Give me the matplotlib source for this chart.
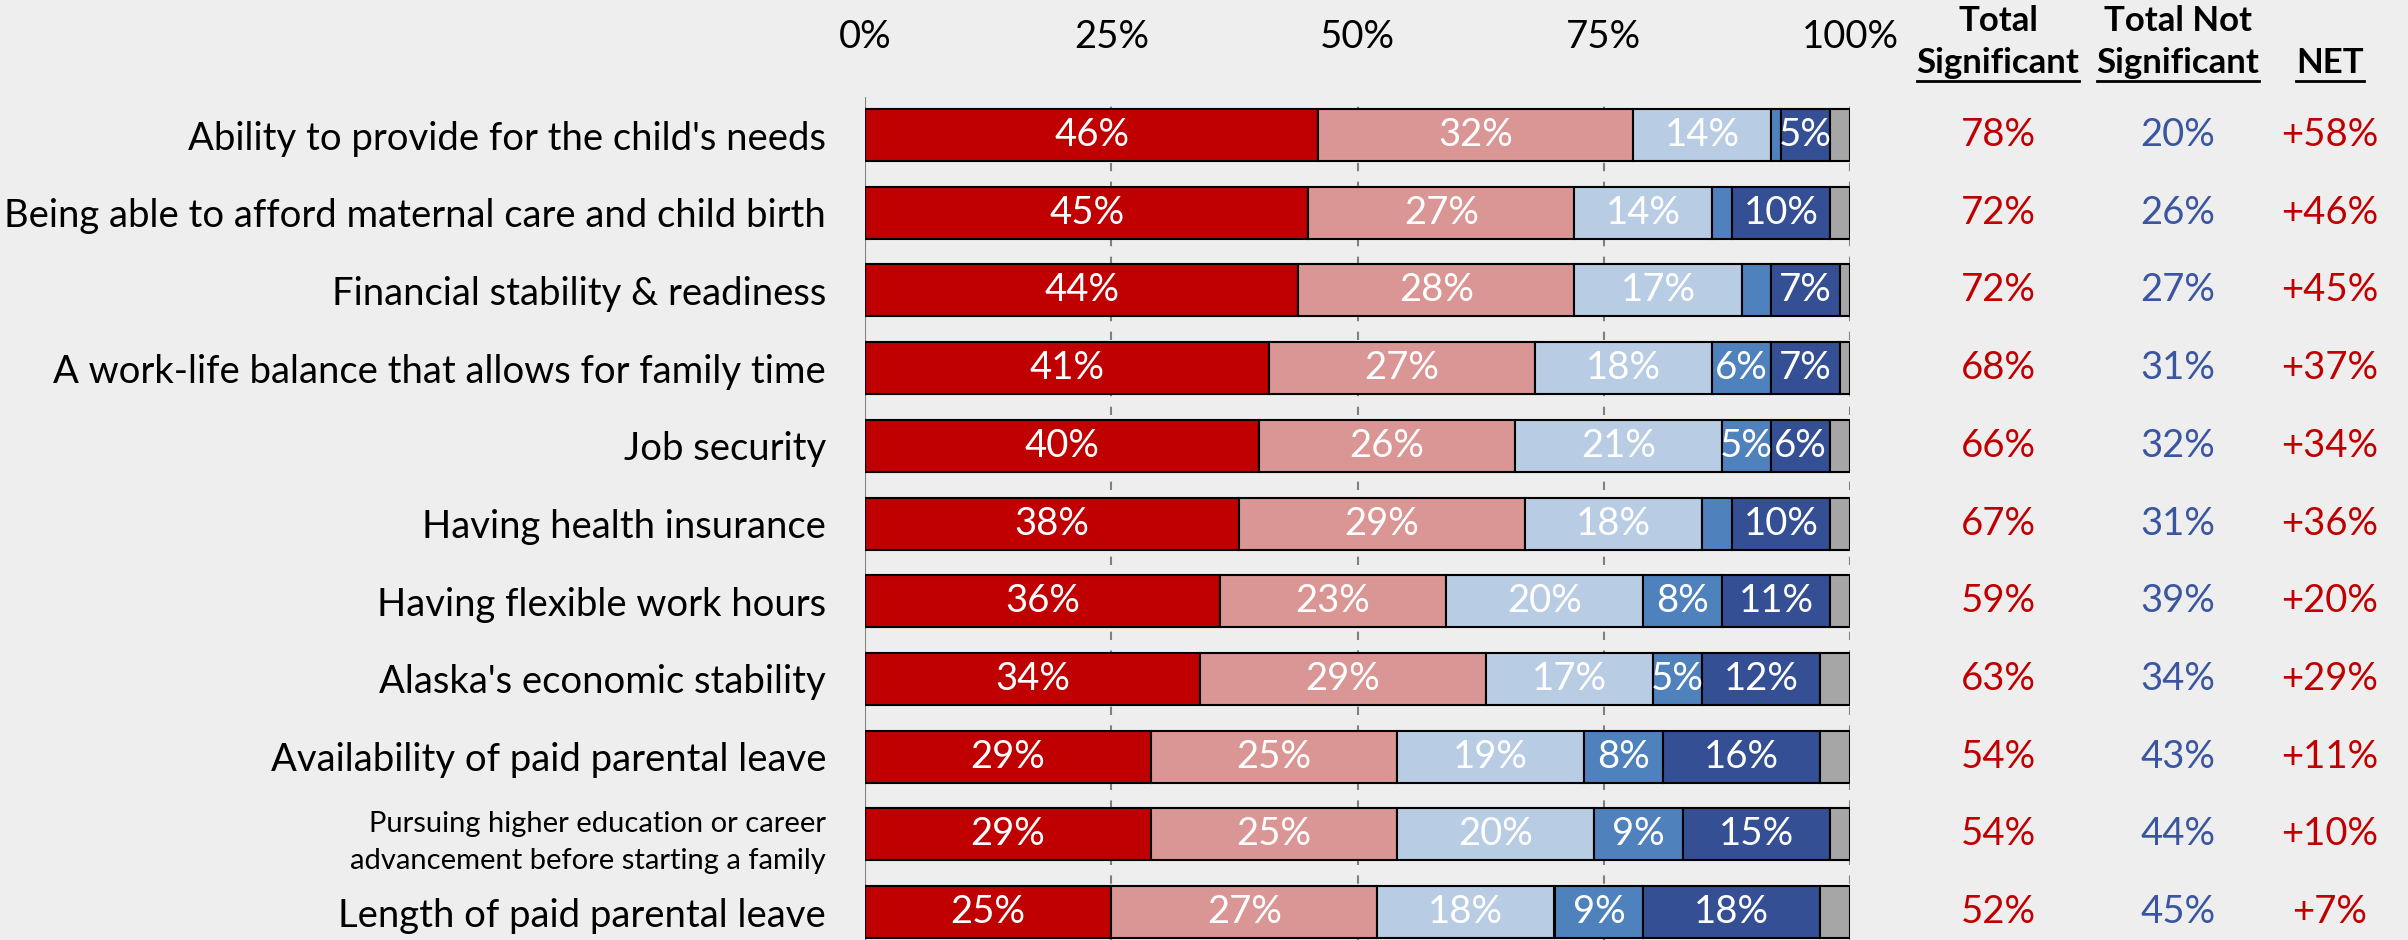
import numpy as np
import matplotlib.pyplot as plt
from matplotlib.lines import Line2D

plt.rcParams['font.family'] = ['Lato', 'DejaVu Sans']

# data
categories = [
    "Ability to provide for the child's needs",
    "Being able to afford maternal care and child birth",
    "Financial stability & readiness",
    "A work-life balance that allows for family time",
    "Job security",
    "Having health insurance",
    "Having flexible work hours",
    "Alaska's economic stability",
    "Availability of paid parental leave",
    "Pursuing higher education or career\nadvancement before starting a family",
    "Length of paid parental leave",
]
very_sig = [46, 45, 44, 41, 40, 38, 36, 34, 29, 29, 25]
somewhat_sig = [32, 27, 28, 27, 26, 29, 23, 29, 25, 25, 27]
not_very_sig = [14, 14, 17, 18, 21, 18, 20, 17, 19, 20, 18]
mostly_not_sig = [1, 2, 3, 6, 5, 3, 8, 5, 8, 9, 9]
not_sig_at_all = [5, 10, 7, 7, 6, 10, 11, 12, 16, 15, 18]
unsure = [2, 2, 1, 1, 2, 2, 2, 3, 3, 2, 3]

total_sig = [78, 72, 72, 68, 66, 67, 59, 63, 54, 54, 52]
total_not_sig = [20, 26, 27, 31, 32, 31, 39, 34, 43, 44, 45]
net = [58, 46, 45, 37, 34, 36, 20, 29, 11, 10, 7]

x_ticks = [0, 25, 50, 75, 100]

series = [very_sig, somewhat_sig, not_very_sig, mostly_not_sig, not_sig_at_all, unsure]
colors = ['#C00000', '#DA9694', '#B8CCE4', '#4F81BD', '#344F94', '#A6A6A6']
red = '#C00000'
blue = '#3A56A0'
bg = '#EEEEEE'
fs = 27.5

W, H = 2408, 940
fig = plt.figure(figsize=(W / 100, H / 100), dpi=100, facecolor=bg)
ax = fig.add_axes([865 / W, 0, 985 / W, 843 / H], facecolor=bg)

y = np.arange(len(categories))
left = np.zeros(len(categories))
for vals, c in zip(series, colors):
    vals = np.array(vals)
    ax.barh(y, vals, left=left, height=0.67, color=c, edgecolor='black',
            linewidth=1.5, zorder=3)
    if c != '#A6A6A6':
        for yi, (l, v) in enumerate(zip(left, vals)):
            if v >= 5:
                ax.text(l + v / 2, yi, f'{v}%', ha='center', va='center',
                        color='white', fontsize=fs, zorder=4)
    left += vals

ax.set_xlim(0, 100)
ax.set_ylim(10.36, -0.49)
ax.xaxis.tick_top()
ax.set_xticks(x_ticks)
ax.set_xticklabels([f'{t}%' for t in x_ticks], fontsize=fs)
ax.tick_params(axis='x', length=0, pad=30)
ax.set_yticks(y)
ax.set_yticklabels(categories, fontsize=fs)
ax.tick_params(axis='y', length=0, pad=28)
for lab in ax.get_yticklabels():
    if '\n' in lab.get_text():
        lab.set_fontsize(21)
        lab.set_linespacing(1.55)
for s in ax.spines.values():
    s.set_visible(False)
ax.axvline(0, color='#808080', lw=1.5, zorder=2)
for t in x_ticks[1:]:
    ax.axvline(t, color='#808080', lw=1.5, ls=(0, (4, 5)), zorder=2)

# right-hand summary columns (x given in pixels, converted to data units)
col_x = [1998, 2178, 2330]
to_data = lambda px: (px - 865) / 9.85
for yi in y:
    ax.text(to_data(col_x[0]), yi, f'{total_sig[yi]}%', ha='center', va='center',
            color=red, fontsize=fs, clip_on=False)
    ax.text(to_data(col_x[1]), yi, f'{total_not_sig[yi]}%', ha='center', va='center',
            color=blue, fontsize=fs, clip_on=False)
    ax.text(to_data(col_x[2]), yi, f'+{net[yi]}%', ha='center', va='center',
            color=red, fontsize=fs, clip_on=False)

headers = [('Total', 'Significant'), ('Total Not', 'Significant'), ('', 'NET')]
bottom_texts = []
for cx, (l1, l2) in zip(col_x, headers):
    if l1:
        fig.text(cx / W, 1 - 21 / H, l1, ha='center', va='center',
                 fontsize=25, fontweight='bold')
    bottom_texts.append(fig.text(cx / W, 1 - 63 / H, l2, ha='center', va='center',
                                 fontsize=25, fontweight='bold'))

fig.canvas.draw()
r = fig.canvas.get_renderer()
for t in bottom_texts:
    bb = t.get_window_extent(renderer=r)
    yline = (bb.y0 - 2) / H
    fig.add_artist(Line2D([bb.x0 / W, bb.x1 / W], [yline, yline], color='black', lw=2))

fig.savefig('out.png', dpi=100, facecolor=bg)
